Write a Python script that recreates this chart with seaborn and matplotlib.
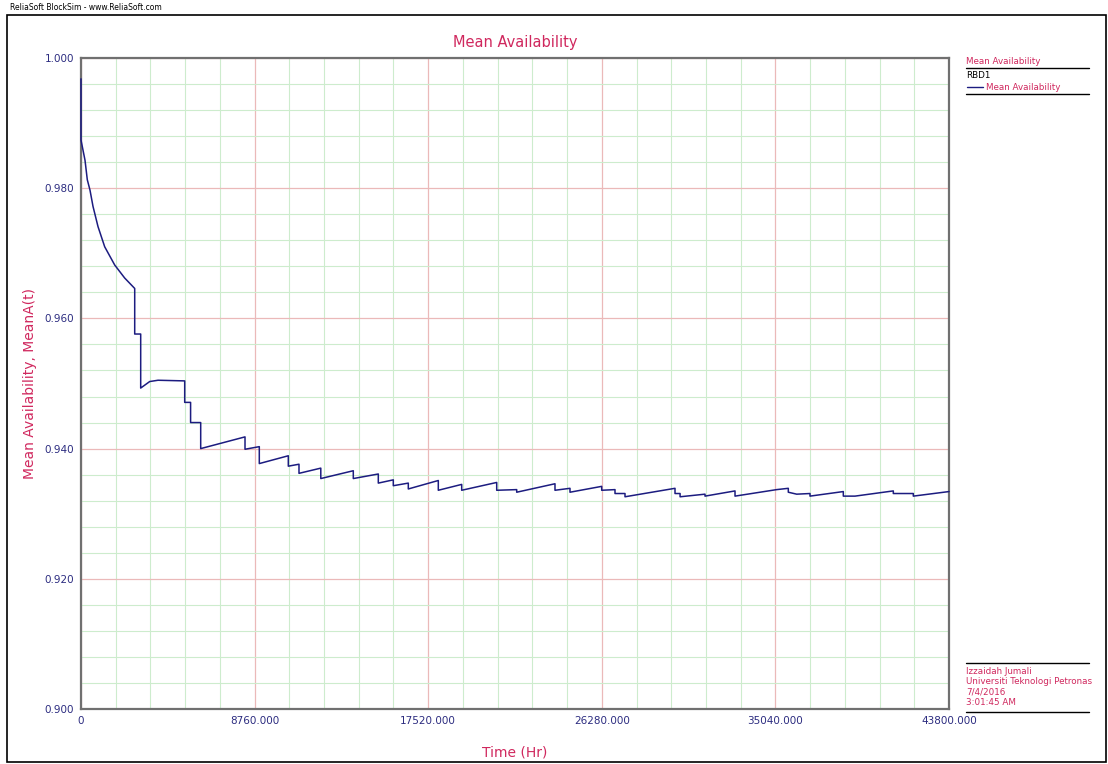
"""
Mean availability chart, BlockSim style
"""
import matplotlib
matplotlib.use("Agg")
import matplotlib.pyplot as plt
from matplotlib.lines import Line2D
from matplotlib.patches import Rectangle
from matplotlib.ticker import MultipleLocator, FixedLocator
import seaborn as sns

W, H = 1108, 764

# simulated mean availability (time in hours)
TIME = [0, 0, 202, 318, 454, 606, 858, 1196, 1701, 2205, 2710, 2710,
        3012, 3012, 3467, 3886, 5233, 5233, 5530, 5530, 6040, 6040,
        8276, 8276, 8997, 8997, 10461, 10461, 11000, 11000, 12100, 12100,
        13740, 13740, 15002, 15002, 15759, 15759, 16516, 16516, 18030, 18030,
        19210, 19210, 20977, 20977, 21986, 21986, 23918, 23918, 24675, 24675,
        26275, 26275, 26946, 26946, 27451, 27451, 29974, 29974, 30230, 30230,
        31488, 31488, 33002, 33002, 35105, 35691, 35691, 36114, 36786, 36786,
        38467, 38467, 39057, 40990, 40990, 41999, 41999, 43800]
MEAN_AVAIL = [0.9968, 0.9874, 0.9843, 0.9813, 0.9797, 0.9772, 0.9741, 0.9710,
              0.9682, 0.9662, 0.9646, 0.9576, 0.9576, 0.9493, 0.9503, 0.9505,
              0.9504, 0.9471, 0.9471, 0.9440, 0.9440, 0.9400, 0.9418, 0.9399,
              0.9403, 0.9377, 0.9389, 0.9373, 0.9376, 0.9362, 0.9370, 0.9354,
              0.9366, 0.9354, 0.9361, 0.9347, 0.9352, 0.9343, 0.9347, 0.9338,
              0.9351, 0.9336, 0.9345, 0.9336, 0.9348, 0.9336, 0.9337, 0.9333,
              0.9346, 0.9336, 0.9339, 0.9333, 0.9342, 0.9336, 0.9337, 0.9331,
              0.9331, 0.9326, 0.9339, 0.9331, 0.9331, 0.9326, 0.9330, 0.9327,
              0.9335, 0.9327, 0.9337, 0.9339, 0.9333, 0.9330, 0.9331, 0.9327,
              0.9334, 0.9327, 0.9327, 0.9335, 0.9331, 0.9331, 0.9327, 0.9334]

X_TICKS = [0, 8760, 17520, 26280, 35040, 43800]
X_LABELS = ["0", "8760.000", "17520.000", "26280.000", "35040.000", "43800.000"]
Y_TICKS = [0.90, 0.92, 0.94, 0.96, 0.98, 1.00]
Y_LABELS = ["0.900", "0.920", "0.940", "0.960", "0.980", "1.000"]

FOOTER = ["Izzaidah Jumali", "Universiti Teknologi Petronas", "7/4/2016", "3:01:45 AM"]

RED = "#d0285e"
NAVY = "#2c2c80"
LINE = "#1c1c80"

sns.set_style("white")
plt.rcParams['font.family'] = ['DejaVu Sans']


def fx(x):
    return x / W


def fy(y):
    return 1 - y / H


def hline(fig, x0, x1, y, color="black", lw=1.0):
    fig.add_artist(Line2D([fx(x0), fx(x1)], [fy(y), fy(y)], color=color, lw=lw,
                          transform=fig.transFigure))


fig = plt.figure(figsize=(W / 100, H / 100), dpi=100)
ax = fig.add_axes([fx(81), fy(709), (949 - 81) / W, (709 - 58) / H])

sns.lineplot(x=TIME, y=MEAN_AVAIL, sort=False, estimator=None, color=LINE,
             lw=1.1, ax=ax)
# the curve starts right on the left spine, keep it on top
for ln in ax.get_lines():
    ln.set_clip_on(False)
    ln.set_zorder(5)

ax.set_xlim(0, 43800)
ax.set_ylim(0.9, 1.0)
ax.xaxis.set_major_locator(FixedLocator(X_TICKS))
ax.yaxis.set_major_locator(FixedLocator(Y_TICKS))
ax.xaxis.set_minor_locator(MultipleLocator(1752))
ax.yaxis.set_minor_locator(MultipleLocator(0.004))
ax.set_xticklabels(X_LABELS)
ax.set_yticklabels(Y_LABELS)
ax.grid(which="minor", color="#cdeccd", lw=0.8)
ax.grid(which="major", color="#ebb9b9", lw=0.9)
ax.set_axisbelow(True)
ax.tick_params(which="major", length=4, width=1, color="#707070",
               labelcolor=NAVY, labelsize=7.5, pad=1)
ax.tick_params(which="minor", length=0)
for side in ax.spines.values():
    side.set_color("#707070")
    side.set_linewidth(1.6)

ax.set_title("Mean Availability", color=RED, fontsize=10.5, pad=8)
ax.set_xlabel("Time (Hr)", color=RED, fontsize=10, labelpad=14)
ax.set_ylabel("Mean Availability, MeanA(t)", color=RED, fontsize=10, labelpad=5)

# outer frame and header
fig.add_artist(Rectangle((fx(7), fy(762)), fx(1106) - fx(7), fy(15) - fy(762),
                         fill=False, ec="black", lw=1.2, transform=fig.transFigure))
fig.text(fx(10), fy(8), "ReliaSoft BlockSim - www.ReliaSoft.com", fontsize=5.5,
         va="center", ha="left", color="black")

# legend block
fig.text(fx(966), fy(62), "Mean Availability", color=RED, fontsize=6.3, va="center")
hline(fig, 966, 1089, 68)
fig.text(fx(966), fy(75), "RBD1", color="black", fontsize=6.3, va="center")
hline(fig, 967, 983, 87, color=LINE)
fig.text(fx(986), fy(87), "Mean Availability", color=RED, fontsize=6.3, va="center")
hline(fig, 966, 1089, 94)

# footer block
hline(fig, 966, 1089, 663)
for i, line in enumerate(FOOTER):
    fig.text(fx(966), fy(671 + i * 10.5), line, color=RED, fontsize=6.3, va="center")
hline(fig, 966, 1089, 712)

fig.savefig("out.png", dpi=100)
